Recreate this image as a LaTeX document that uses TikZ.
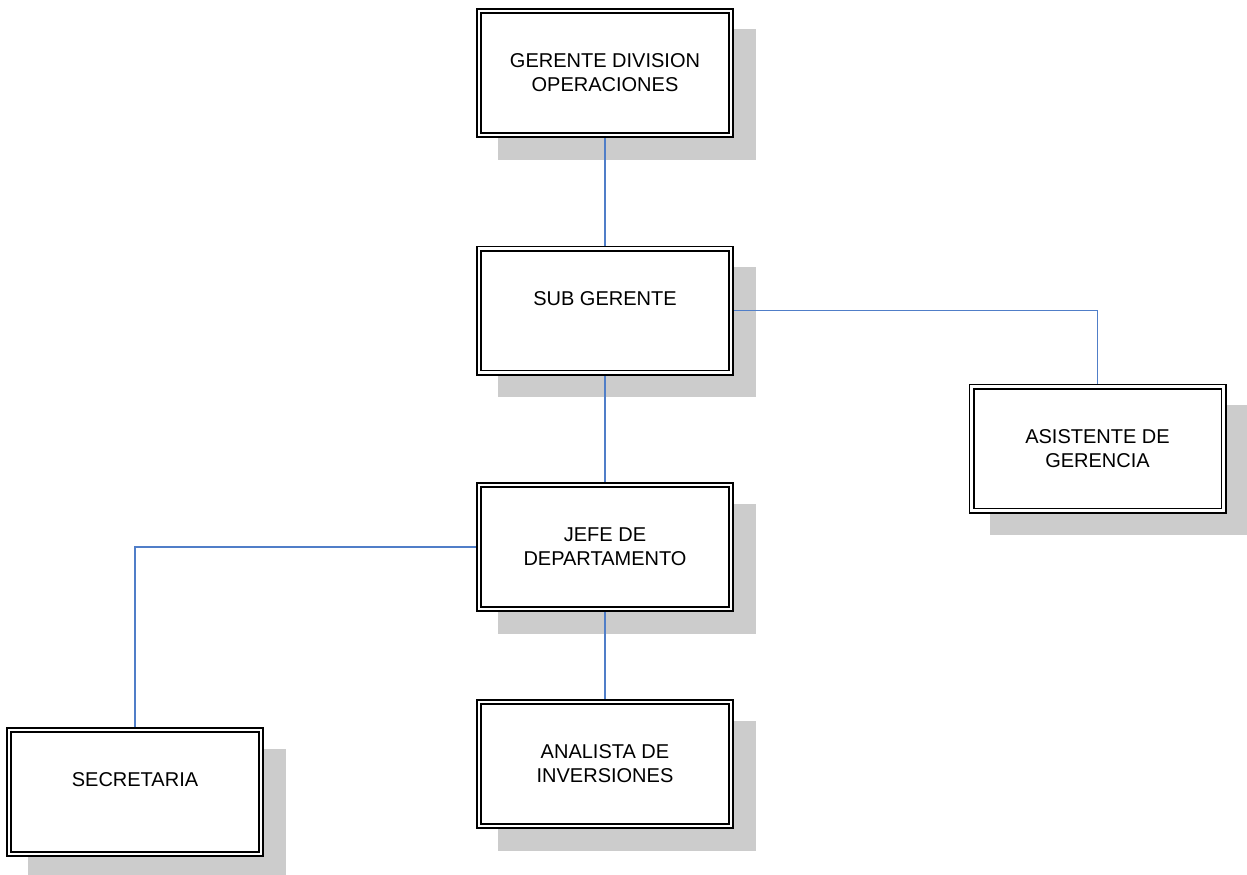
\documentclass[tikz,border=0pt]{standalone}
\usepackage{fontspec}
\setmainfont{Liberation Sans}
\pgfdeclarelayer{shadowlayer}
\pgfdeclarelayer{connlayer}
\pgfsetlayers{shadowlayer,connlayer,main}
\definecolor{connblue}{RGB}{80,126,200}
\definecolor{shadowgray}{RGB}{204,204,204}
\tikzset{
  orgbox/.style={draw=black, line width=1.8pt, double=white, double distance=2.4pt,
    fill=white, minimum width=252pt, minimum height=124pt, inner sep=0pt,
    align=center, font=\fontsize{20}{24}\selectfont},
  shadowbox/.style={fill=shadowgray, draw=none, minimum width=258pt, minimum height=130pt, inner sep=0pt},
  conn/.style={draw=connblue, line width=1.3pt}
}
\begin{document}
\begin{tikzpicture}[x=1pt,y=-1pt]
\useasboundingbox (0,0) rectangle (1247,875);
\node[orgbox] (g) at (605,73) {GERENTE DIVISION\\OPERACIONES};
\node[orgbox] (s) at (605,310.5) {SUB GERENTE\\\mbox{}};
\node[orgbox] (j) at (605,547) {JEFE DE\\DEPARTAMENTO};
\node[orgbox] (an) at (605,764) {ANALISTA DE\\INVERSIONES};
\node[orgbox] (sec) at (135,792) {SECRETARIA\\\mbox{}};
\node[orgbox] (as) at (1097.5,448.5) {ASISTENTE DE\\GERENCIA};
\begin{pgfonlayer}{shadowlayer}
\node[shadowbox] (g-sh) at ([shift={(21.5,21.5)}]g.center) {};
\node[shadowbox] (s-sh) at ([shift={(21.5,21.5)}]s.center) {};
\node[shadowbox] (j-sh) at ([shift={(21.5,21.5)}]j.center) {};
\node[shadowbox] (an-sh) at ([shift={(21.5,21.5)}]an.center) {};
\node[shadowbox] (sec-sh) at ([shift={(21.5,21.5)}]sec.center) {};
\node[shadowbox] (as-sh) at ([shift={(21.5,21.5)}]as.center) {};
\end{pgfonlayer}
\begin{pgfonlayer}{connlayer}
\draw[conn] (g.south) -- (s.north);
\draw[conn] (s.south) -- (j.north);
\draw[conn] (j.south) -- (an.north);
\draw[conn] (s.east) -| (as.north);
\draw[conn] (j.west) -| (sec.north);
\end{pgfonlayer}
\end{tikzpicture}
\end{document}
